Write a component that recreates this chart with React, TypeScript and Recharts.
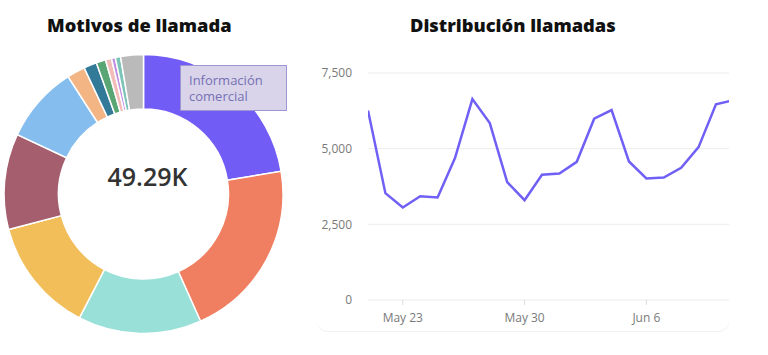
import React from "react";
import {
  PieChart,
  Pie,
  Cell,
  Label,
  Tooltip,
  LineChart,
  Line,
  XAxis,
  YAxis,
  CartesianGrid,
} from "recharts";

// Motivos de llamada (donut)
const motivos = [
  "Información comercial",
  "Facturación",
  "Soporte técnico",
  "Reclamaciones",
  "Altas",
  "Bajas",
  "Portabilidad",
  "Averías",
  "Pagos",
  "Citas",
  "Envíos",
  "Garantía",
  "Otros",
];
const llamadasPorMotivo = [11040, 10300, 7050, 6560, 5470, 4390, 1035, 740, 540, 345, 220, 300, 1300];
const coloresMotivo = [
  "#725CF6",
  "#F07F62",
  "#98E0D8",
  "#F2BE5A",
  "#A45E6D",
  "#84BDEE",
  "#F4B585",
  "#337A99",
  "#5AA574",
  "#F2BDB8",
  "#C08EE0",
  "#7CC4B8",
  "#BABABA",
];
const totalLabel = "49.29K";

// Distribución llamadas (línea) — day 0 = May 21
const dias = [0, 1, 2, 3, 4, 5, 6, 7, 8, 9, 10, 11, 12, 13, 14, 15, 16, 17, 18, 19, 20, 21];
const llamadasPorDia = [
  6260, 3530, 3055, 3430, 3386, 4690, 6640, 5845, 3893, 3298, 4136, 4180, 4566, 5990, 6276, 4577, 4015, 4048,
  4368, 5051, 6463, 6600,
];
const fechaTicks = [2, 9, 16];
const fechaLabels: Record<number, string> = { 2: "May 23", 9: "May 30", 16: "Jun 6" };
const yTicks = [0, 2500, 5000, 7500];

const font = "'Open Sans', 'Noto Sans', sans-serif";

function InfoTooltip() {
  return (
    <div
      style={{
        background: "#D9D4EA",
        border: "1px solid #9D95D4",
        color: "#7670B4",
        fontFamily: font,
        fontSize: 13,
        lineHeight: "16px",
        padding: "6px 8px",
        width: 89,
        height: 32,
      }}
    >
      Información
      <br />
      comercial
    </div>
  );
}

export default function App() {
  const pieData = motivos.map((name, i) => ({ name, value: llamadasPorMotivo[i], color: coloresMotivo[i] }));
  const lineData = dias.map((d, i) => ({ dia: d, llamadas: llamadasPorDia[i] }));
  const tickStyle = { fontSize: 12, fill: "#7a7a7a", fontFamily: font };

  return (
    <div style={{ position: "absolute", left: 0, top: 0, width: 768, height: 355, background: "#fff", fontFamily: font }}>
      <div style={{ position: "absolute", left: 47, top: 12, fontSize: 18.3, fontWeight: 800, color: "#111" }}>
        Motivos de llamada
      </div>
      <div style={{ position: "absolute", left: 410, top: 12, fontSize: 18.3, fontWeight: 800, color: "#111" }}>
        Distribución llamadas
      </div>

      <div style={{ position: "absolute", left: 0, top: 0 }}>
        <PieChart width={295} height={355} margin={{ top: 0, right: 0, bottom: 0, left: 0 }}>
          <Pie
            data={pieData}
            dataKey="value"
            nameKey="name"
            cx={143.5}
            cy={194}
            innerRadius={85}
            outerRadius={139.5}
            startAngle={90}
            endAngle={-270}
            stroke="#fff"
            strokeWidth={1.5}
            isAnimationActive={false}
          >
            {pieData.map((entry) => (
              <Cell key={entry.name} fill={entry.color} />
            ))}
            <Label
              value={totalLabel}
              position="center"
              style={{ fontSize: 25, fontWeight: 600, fill: "#333", fontFamily: font }}
            />
          </Pie>
          <Tooltip
            defaultIndex={0}
            active
            position={{ x: 180, y: 65 }}
            content={<InfoTooltip />}
            isAnimationActive={false}
            wrapperStyle={{ outline: "none" }}
          />
        </PieChart>
      </div>

      <div
        style={{
          position: "absolute",
          left: 317,
          top: 40,
          width: 412,
          height: 291,
          borderRadius: 10,
          boxShadow: "0 1px 0 #f0f0f0",
        }}
      />

      <div style={{ position: "absolute", left: 300, top: 40 }}>
        <LineChart width={440} height={300} data={lineData} margin={{ top: 33, right: 11, bottom: 10, left: 0 }}>
          <CartesianGrid vertical={false} stroke="#ececec" />
          <XAxis
            dataKey="dia"
            type="number"
            domain={[0, 20.75]}
            allowDataOverflow
            ticks={fechaTicks}
            tickFormatter={(v: number) => fechaLabels[v] ?? ""}
            tick={tickStyle}
            axisLine={false}
            tickLine={{ stroke: "#dcdcdc" }}
            tickSize={5}
            tickMargin={8}
            height={30}
          />
          <YAxis
            domain={[0, 7500]}
            ticks={yTicks}
            tickFormatter={(v: number) => v.toLocaleString("en-US")}
            tick={tickStyle}
            axisLine={false}
            tickLine={false}
            tickSize={6}
            tickMargin={10}
            width={68}
          />
          <Line
            type="linear"
            dataKey="llamadas"
            stroke="#7060F5"
            strokeWidth={2.5}
            dot={false}
            activeDot={false}
            isAnimationActive={false}
          />
        </LineChart>
      </div>
    </div>
  );
}
